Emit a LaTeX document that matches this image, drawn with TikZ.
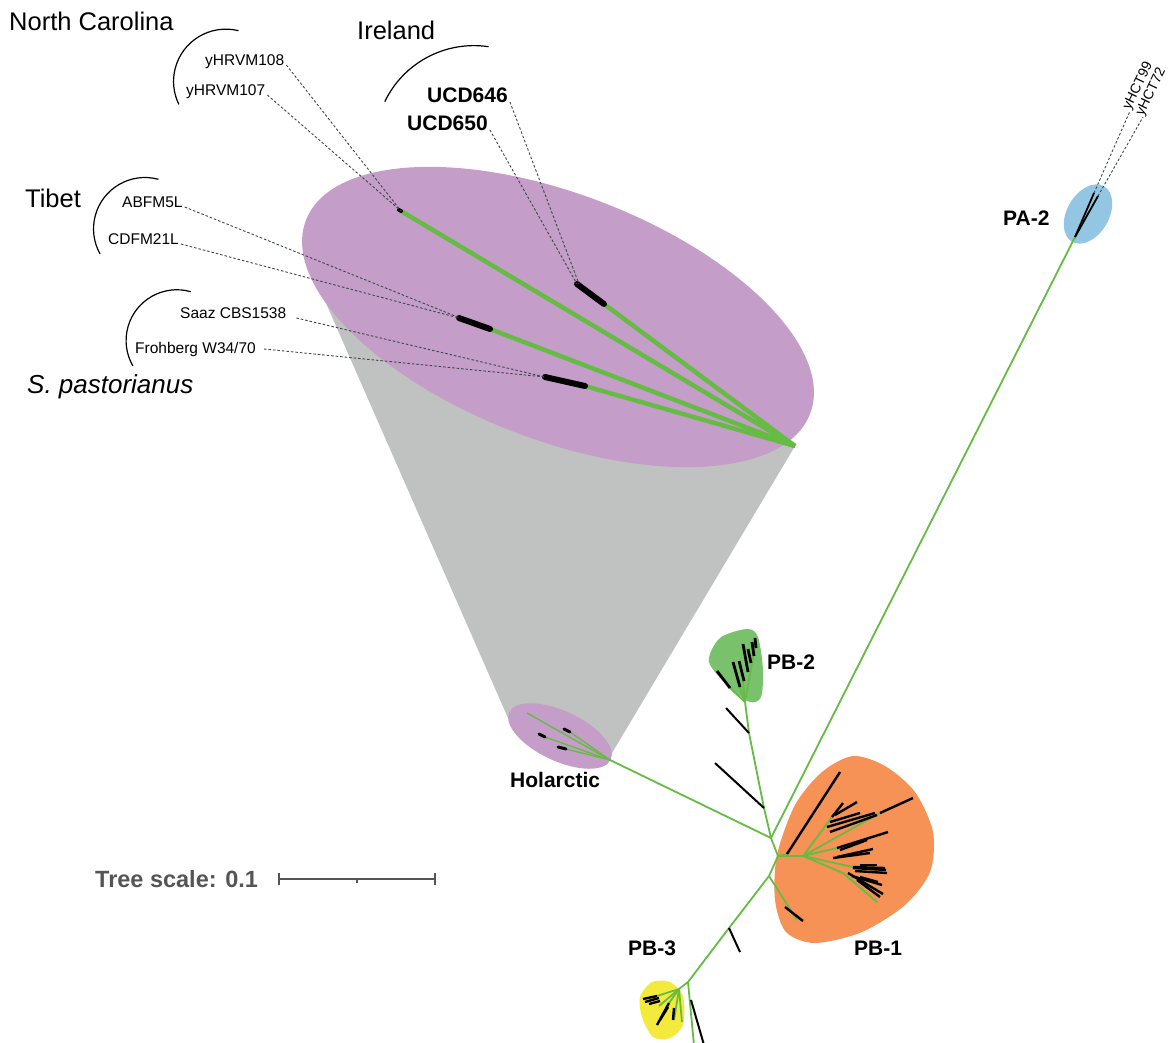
\documentclass[tikz,border=0pt]{standalone}
\usepackage{fontspec}
\setmainfont{Liberation Sans}

\definecolor{treegreen}{RGB}{102,187,69}
\definecolor{holpurple}{RGB}{196,158,200}
\definecolor{conegray}{RGB}{192,194,193}
\definecolor{pbone}{RGB}{246,146,86}
\definecolor{pbtwo}{RGB}{121,193,107}
\definecolor{pbthree}{RGB}{243,234,60}
\definecolor{patwo}{RGB}{147,198,227}
\definecolor{scalegray}{RGB}{85,85,85}
\definecolor{guidegray}{RGB}{60,70,70}

\tikzset{
    branch/.style={treegreen, line width=1.8pt},
    thickbranch/.style={treegreen, line width=4.5pt},
    leaf/.style={black, line width=2.4pt},
    tipbar/.style={black, line width=6pt, line cap=round},
    guide/.style={guidegray, line width=0.9pt, dash pattern=on 2.5pt off 2pt},
    bracket/.style={black, line width=1.2pt},
    region/.style={font=\fontsize{25.5}{30}\selectfont, anchor=base west, inner sep=0pt},
    strain/.style={font=\fontsize{15.5}{18}\selectfont, anchor=base west, inner sep=0pt},
    clade/.style={font=\fontsize{21}{25}\selectfont\bfseries, anchor=base west, inner sep=0pt},
}

\begin{document}
\begin{tikzpicture}[x=1pt, y=-1pt]
    \useasboundingbox (0, 0) rectangle (1172, 1042);

    % zoom cone and clade areas
    \fill[conegray] (318, 285) -- (795, 446) -- (612, 753) -- (508, 718) -- cycle;
    \fill[holpurple, rotate around={-21:(558, 317)}] (558, 317) ellipse [x radius=270pt, y radius=123pt];
    \fill[holpurple, rotate around={-25:(560, 736)}] (560, 736) ellipse [x radius=56pt, y radius=25pt];
    \fill[patwo, rotate around={60:(1088, 214)}] (1088, 214) ellipse [x radius=32pt, y radius=21pt];
    \fill[pbtwo] plot[smooth cycle] coordinates {(747, 629) (758, 637) (763, 670) (761, 697) (750, 702) (730, 688) (709, 662) (720, 638)};
    \fill[pbone] plot[smooth cycle] coordinates {(853, 756) (885, 766) (915, 792) (933, 832) (930, 872) (905, 905) (862, 932) (815, 943) (786, 932) (775, 900) (777, 855) (795, 805) (822, 772)};
    \fill[pbthree] plot[smooth cycle] coordinates {(640, 997) (652, 982) (670, 982) (683, 996) (683, 1025) (670, 1038) (653, 1037) (642, 1017)};

    % tree junctions
    \coordinate (hub) at (771, 838);
    \coordinate (pbj) at (778, 856);
    \coordinate (lowj) at (769, 876);
    \coordinate (pb3stem) at (729, 928);
    \coordinate (pb3j) at (688, 982);
    \coordinate (pb3c) at (679, 989);
    \coordinate (holroot) at (610, 760);
    \coordinate (pa2root) at (1075, 237);
    \coordinate (pb2a) at (764, 808);
    \coordinate (pb2b) at (749, 733);
    \coordinate (pb2c) at (745, 702);
    \coordinate (pb1j) at (803, 856);
    \coordinate (spasroot) at (795, 446);

    % backbone
    \draw[branch] (holroot) -- (hub) -- (pbj) -- (lowj) -- (pb3stem) -- (pb3j) -- (pb3c);
    \draw[branch] (hub) -- (pa2root);
    \draw[branch] (hub) -- (pb2a) -- (pb2b) -- (pb2c);
    \draw[branch] (pb3j) -- (694, 1045);
    \draw[leaf, line width=2pt] (pb2a) -- (715, 763);
    \draw[leaf, line width=2pt] (pb2b) -- (726, 708);
    \draw[leaf, line width=2pt] (pb3stem) -- (740, 952);
    \draw[leaf, line width=2pt] (691, 1000) -- (704, 1045);

    % Holarctic
    \draw[branch, line width=1.4pt] (holroot) -- (527, 713);
    \draw[branch, line width=1.4pt] (holroot) -- (570, 732);
    \draw[branch, line width=1.4pt] (holroot) -- (545, 737);
    \draw[branch, line width=1.4pt] (holroot) -- (566, 749);
    \draw[leaf, line width=3pt, line cap=round] (570, 732) -- (564, 729);
    \draw[leaf, line width=3pt, line cap=round] (545, 737) -- (539, 734);
    \draw[leaf, line width=3pt, line cap=round] (566, 749) -- (558, 747);

    % PA-2
    \coordinate (pa2tipa) at (1094, 193);
    \coordinate (pa2tipb) at (1098, 196);
    \draw[leaf, line width=1.8pt] (pa2root) -- (pa2tipa);
    \draw[leaf, line width=1.8pt] (pa2root) -- (pa2tipb);

    % PB-2
    \draw[branch] (pb2c) -- (756, 641);
    \draw[branch] (pb2c) -- (730, 688);
    \draw[branch] (pb2c) -- (739, 685);
    \draw[branch] (pb2c) -- (743, 680);
    \draw[leaf, line width=2.8pt] (730, 688) -- (717, 671);
    \draw[leaf, line width=2.8pt] (740, 687) -- (733, 662);
    \draw[leaf, line width=2.8pt] (744, 681) -- (739, 661);
    \draw[leaf, line width=2.8pt] (748, 672) -- (743, 644);
    \draw[leaf, line width=2.8pt] (751, 663) -- (748, 649);
    \draw[leaf, line width=2.8pt] (754, 656) -- (752, 642);
    \draw[leaf, line width=2.8pt] (756, 648) -- (755, 638);

    % PB-1
    \draw[branch] (pbj) -- (pb1j);
    \draw[branch] (pbj) -- (787, 854);
    \draw[branch] (pb1j) -- (832, 817);
    \draw[branch] (pb1j) -- (880, 813);
    \draw[branch] (pb1j) -- (837, 848);
    \draw[branch] (pb1j) -- (853, 867);
    \draw[branch] (pb1j) -- (843, 873) -- (877, 902);
    \draw[branch] (lowj) -- (797, 920);
    \draw[leaf] (787, 854) -- (840, 772);
    \draw[leaf] (832, 817) -- (843, 803);
    \draw[leaf] (835, 815) -- (857, 802);
    \draw[leaf] (830, 822) -- (860, 813);
    \draw[leaf] (827, 827) -- (875, 813);
    \draw[leaf] (830, 832) -- (877, 815);
    \draw[leaf] (880, 813) -- (913, 798);
    \draw[leaf] (837, 848) -- (888, 832);
    \draw[leaf] (840, 850) -- (867, 840);
    \draw[leaf] (837, 857) -- (873, 849);
    \draw[leaf] (833, 858) -- (870, 853);
    \draw[leaf] (853, 867) -- (885, 868);
    \draw[leaf] (853, 868) -- (886, 870);
    \draw[leaf] (855, 871) -- (887, 873);
    \draw[leaf] (860, 865) -- (877, 865);
    \draw[leaf] (848, 873) -- (883, 894);
    \draw[leaf] (852, 876) -- (882, 885);
    \draw[leaf] (857, 880) -- (880, 897);
    \draw[leaf] (860, 877) -- (878, 882);
    \draw[leaf] (785, 907) -- (803, 921);

    % PB-3
    \draw[branch] (pb3c) -- (657, 996);
    \draw[branch] (pb3c) -- (659, 1006);
    \draw[branch] (pb3c) -- (669, 1003);
    \draw[branch] (pb3c) -- (682, 1022);
    \draw[branch] (pb3c) -- (674, 1020);
    \draw[leaf] (657, 996) -- (643, 999);
    \draw[leaf] (659, 998) -- (645, 1002);
    \draw[leaf] (660, 1001) -- (649, 1004);
    \draw[leaf] (669, 1003) -- (657, 1025);
    \draw[leaf] (668, 1007) -- (660, 1020);
    \draw[leaf] (674, 1008) -- (673, 1020);

    % S. pastorianus clade, enlarged
    \coordinate (hrvmtip) at (401, 211);
    \coordinate (ucdtip) at (577, 284);
    \coordinate (tibtip) at (459, 318);
    \coordinate (lagertip) at (545, 377);
    \draw[thickbranch] (spasroot) -- (hrvmtip);
    \draw[thickbranch] (spasroot) -- (604, 304);
    \draw[thickbranch] (spasroot) -- (490, 329);
    \draw[thickbranch] (spasroot) -- (585, 386);
    \draw[tipbar, line width=4pt] (399, 210) -- (hrvmtip);
    \draw[tipbar] (ucdtip) -- (604, 304);
    \draw[tipbar] (tibtip) -- (490, 329);
    \draw[tipbar] (lagertip) -- (585, 386);

    % group labels and brackets
    \node[region] (ncar) at (9, 30) {North Carolina};
    \node[region] (irl) at (357, 39) {Ireland};
    \node[region] (tib) at (25, 207) {Tibet};
    \node[region, font=\fontsize{26}{30}\selectfont\itshape] (spast) at (27, 393) {S. pastorianus};
    \draw[bracket] (238.5, 30.7) arc[start angle=76, end angle=206, radius=52.3pt];
    \draw[bracket] (488.5, 46.7) arc[start angle=81.5, end angle=154.3, radius=98.9pt];
    \draw[bracket] (158.4, 179.3) arc[start angle=74.8, end angle=209.2, radius=51.4pt];
    \draw[bracket] (190.8, 291.7) arc[start angle=74.1, end angle=210, radius=50.8pt];

    % strains
    \node[strain] (hrvm108) at (205, 65) {yHRVM108};
    \node[strain] (hrvm107) at (186, 95) {yHRVM107};
    \node[clade] (ucd646) at (427, 102) {UCD646};
    \node[clade] (ucd650) at (407, 130) {UCD650};
    \node[strain] (abfm) at (122, 207) {ABFM5L};
    \node[strain] (cdfm) at (108, 244) {CDFM21L};
    \node[strain] (saaz) at (180, 318) {Saaz CBS1538};
    \node[strain] (froh) at (135, 353) {Frohberg W34/70};
    \node[strain, font=\fontsize{14}{16}\selectfont, rotate=64] (hct99) at (1130, 111) {yHCT99};
    \node[strain, font=\fontsize{14}{16}\selectfont, rotate=64] (hct72) at (1143, 117) {yHCT72};

    \draw[guide] ([xshift=2pt]hrvm108.base east) -- (hrvmtip);
    \draw[guide] ([xshift=2pt]hrvm107.base east) -- (hrvmtip);
    \draw[guide] ([xshift=2pt]ucd646.base east) -- ([xshift=2pt]ucdtip);
    \draw[guide] ([xshift=2pt]ucd650.base east) -- (ucdtip);
    \draw[guide] ([xshift=2pt]abfm.base east) -- ([xshift=1pt]tibtip);
    \draw[guide] ([xshift=2pt]cdfm.base east) -- (tibtip);
    \draw[guide] ([xshift=10pt]saaz.base east) -- (lagertip);
    \draw[guide] ([xshift=8pt]froh.east) -- (lagertip);
    \draw[guide] (pa2tipa) -- (hct99.base west);
    \draw[guide] (pa2tipb) -- (hct72.base west);

    % clade names
    \node[clade] (pa2) at (1003, 225) {PA-2};
    \node[clade] (pb2) at (767, 669) {PB-2};
    \node[clade] (hol) at (510, 787) {Holarctic};
    \node[clade] (pb1) at (854, 955) {PB-1};
    \node[clade] (pb3) at (628, 955) {PB-3};

    % scale bar
    \node[clade, text=scalegray, font=\fontsize{23.5}{28}\selectfont\bfseries] (tscale) at (95, 887) {Tree scale: 0.1};
    \coordinate (sbl) at (279, 879);
    \coordinate (sbm) at (357, 879);
    \coordinate (sbr) at (435, 879);
    \draw[scalegray, line width=1.5pt] (sbl) -- (sbr);
    \draw[scalegray, line width=1.5pt] ([yshift=6pt]sbl) -- ([yshift=-6pt]sbl);
    \draw[scalegray, line width=1.5pt] ([yshift=6pt]sbr) -- ([yshift=-6pt]sbr);
    \draw[scalegray, line width=1.2pt] (sbm) -- ([yshift=-4pt]sbm);
\end{tikzpicture}
\end{document}
